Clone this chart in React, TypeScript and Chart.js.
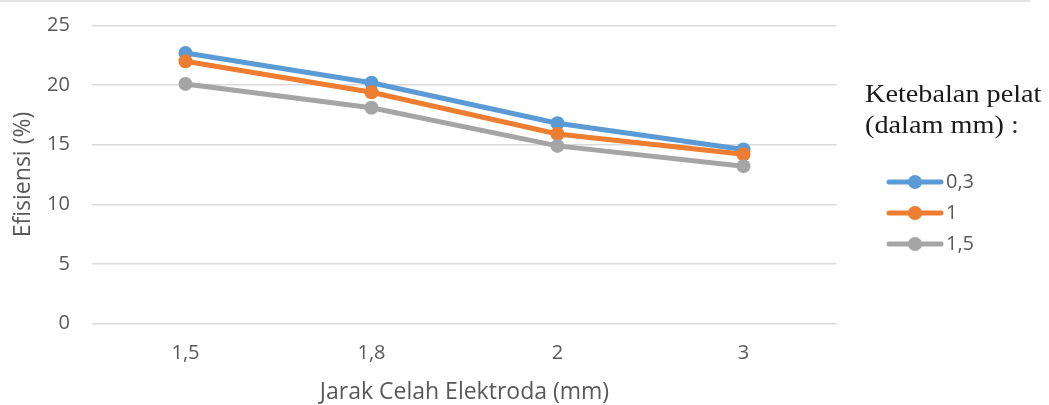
import React, { useEffect, useRef } from "react";
import { Chart, registerables } from "chart.js";

Chart.register(...registerables);

// Electrode gap categories (mm)
const gapLabels = ["1,5", "1,8", "2", "3"];

// Efficiency (%) per plate thickness
const thickness03 = [22.7, 20.2, 16.8, 14.6];
const thickness1 = [22.0, 19.4, 15.9, 14.2];
const thickness15 = [20.1, 18.1, 14.9, 13.2];

const seriesNames = ["0,3", "1", "1,5"];
const seriesColors = ["#5B9BD5", "#ED7D31", "#A5A5A5"];

const yTicks = { min: 0, max: 25, step: 5 };

const legendTitle = ["Ketebalan pelat", "(dalam mm) :"];

const TEXT = "#595959";
const SANS = "'Open Sans', 'Noto Sans', sans-serif";

// Right-hand legend: serif title plus line/marker samples for each dataset
const sideLegend = {
  id: "sideLegend",
  afterDraw(chart: Chart) {
    const ctx = chart.ctx;
    ctx.save();
    ctx.fillStyle = "#1a1a1a";
    ctx.font = "25px 'Liberation Serif', 'Times New Roman', serif";
    ctx.textBaseline = "alphabetic";
    ctx.textAlign = "left";
    const baselines = [101.5, 133];
    legendTitle.forEach((line, i) => {
      ctx.save();
      ctx.translate(865, baselines[i]);
      ctx.scale(1.13, 1);
      ctx.fillText(line, 0, 0);
      ctx.restore();
    });
    const rowY = [182, 213, 244];
    chart.data.datasets.forEach((ds: any, i: number) => {
      const y = rowY[i];
      const color = ds.borderColor as string;
      ctx.strokeStyle = color;
      ctx.lineWidth = 5;
      ctx.lineCap = "round";
      ctx.beginPath();
      ctx.moveTo(889, y);
      ctx.lineTo(941, y);
      ctx.stroke();
      ctx.fillStyle = color;
      ctx.beginPath();
      ctx.arc(915, y, 7, 0, Math.PI * 2);
      ctx.fill();
      ctx.fillStyle = TEXT;
      ctx.font = `20px ${SANS}`;
      ctx.textBaseline = "middle";
      ctx.fillText(ds.label, 946, y);
    });
    ctx.restore();
  },
};

export default function App() {
  const canvasRef = useRef<HTMLCanvasElement | null>(null);

  useEffect(() => {
    if (!canvasRef.current) return;
    const values = [thickness03, thickness1, thickness15];
    const chart = new Chart(canvasRef.current, {
      type: "line",
      data: {
        labels: gapLabels,
        datasets: values.map((data, i) => ({
          label: seriesNames[i],
          data,
          borderColor: seriesColors[i],
          backgroundColor: seriesColors[i],
          borderWidth: 5,
          pointRadius: 7,
          pointBorderWidth: 0,
          pointBackgroundColor: seriesColors[i],
          tension: 0,
          order: 2 - i,
        })),
      },
      options: {
        animation: false,
        responsive: true,
        maintainAspectRatio: false,
        layout: { padding: { top: 0, right: 212.5, bottom: 0, left: 0 } },
        plugins: {
          legend: { display: false },
          tooltip: { enabled: false },
        },
        scales: {
          x: {
            offset: true,
            grid: { display: false, drawTicks: false },
            border: { display: false },
            ticks: {
              color: TEXT,
              padding: 20,
              font: { family: SANS, size: 20, lineHeight: 1 },
            },
            title: {
              display: true,
              text: "Jarak Celah Elektroda (mm)",
              color: TEXT,
              padding: { top: -3, bottom: 1.5 },
              font: { family: SANS, size: 23, lineHeight: 1 },
            },
          },
          y: {
            min: yTicks.min,
            max: yTicks.max,
            grid: { color: "#D9D9D9", lineWidth: 1.5, drawTicks: false },
            border: { display: false },
            ticks: {
              stepSize: yTicks.step,
              color: TEXT,
              padding: 22.5,
              font: { family: SANS, size: 20, lineHeight: 0.3 },
            },
            title: {
              display: true,
              text: "Efisiensi (%)",
              color: TEXT,
              padding: { top: 12, bottom: -10.4 },
              font: { family: SANS, size: 23, lineHeight: 1 },
            },
          },
        },
      },
      plugins: [sideLegend],
    });
    return () => chart.destroy();
  }, []);

  return (
    <div
      style={{
        position: "fixed",
        left: 0,
        top: 0,
        width: 1049,
        height: 405,
        background: "#ffffff",
      }}
    >
      <canvas ref={canvasRef} />
      <div
        style={{
          position: "absolute",
          left: 0,
          top: 0,
          width: 1030,
          height: 2,
          background: "#E2E2E2",
        }}
      />
    </div>
  );
}
